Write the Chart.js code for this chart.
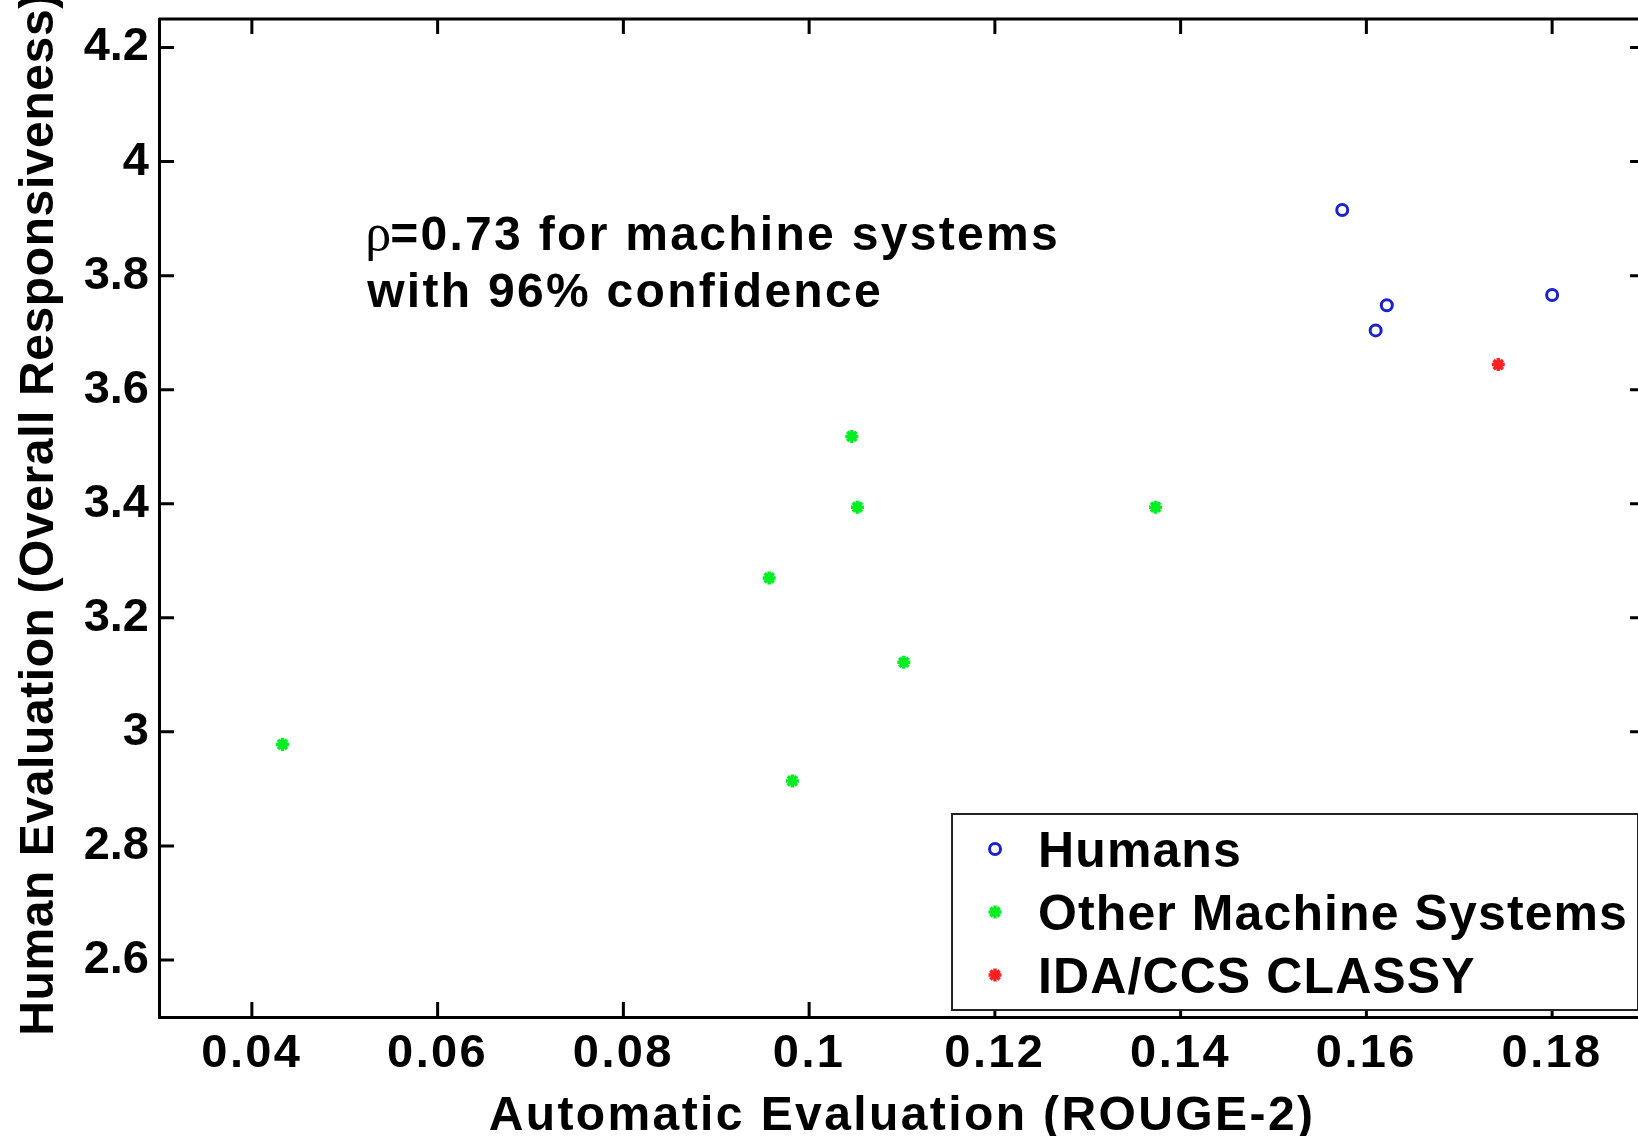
<!DOCTYPE html>
<html>
<head>
<meta charset="utf-8">
<title>Human vs Automatic Evaluation</title>
<script src="https://cdn.jsdelivr.net/npm/chart.js@4.4.1/dist/chart.umd.min.js"></script>
<style>
    html, body { margin: 0; padding: 0; background: #fff; overflow: hidden; }
    /* the right frame of the original axes falls just outside the picture */
    #marco { position: absolute; left: 0; top: 0; width: 1700px; height: 1136px; }
</style>
</head>
<body>
<div id="marco"><canvas id="grafica"></canvas></div>
<script>
// Ticks
const xTicks = [0.04, 0.06, 0.08, 0.10, 0.12, 0.14, 0.16, 0.18];
const yTicks = [2.6, 2.8, 3.0, 3.2, 3.4, 3.6, 3.8, 4.0, 4.2];

// Series (ROUGE-2, responsiveness)
const humanosX = [0.1574, 0.1622, 0.1610, 0.1800];
const humanosY = [3.915, 3.748, 3.704, 3.766];
const otrosX = [0.0433, 0.1046, 0.1052, 0.0957, 0.1102, 0.0982, 0.1373];
const otrosY = [2.978, 3.518, 3.394, 3.270, 3.122, 2.914, 3.394];
const classyX = [0.1742];
const classyY = [3.644];

const nota = ['=0.73 for machine systems', 'with 96% confidence'];
const tituloY = 'Human Evaluation (Overall Responsiveness)';

const fuente = '"Liberation Sans", Arial, Helvetica, sans-serif';

function puntos(xs, ys) {
    return xs.map((x, i) => ({ x: x, y: ys[i] }));
}

function etiqueta(v) {
    return String(parseFloat(Number(v).toFixed(2)));
}

// Caja estilo MATLAB: marco superior/derecho, ticks hacia dentro, textos y leyenda
const marcoPlugin = {
    id: 'marco',
    beforeDraw(chart) {
        // la fuente del original es algo mas ancha que Liberation Sans
        chart.ctx.letterSpacing = '2.4px';
    },
    beforeDatasetsDraw(chart) {
        const { ctx, chartArea: a, scales: { x, y } } = chart;
        const largo = 15;
        ctx.save();
        ctx.strokeStyle = '#000';
        ctx.lineWidth = 3;
        ctx.beginPath();
        ctx.moveTo(a.left, a.top);
        ctx.lineTo(a.right, a.top);
        ctx.lineTo(a.right, a.bottom);
        x.ticks.forEach(t => {
            const px = x.getPixelForValue(t.value);
            ctx.moveTo(px, a.bottom);
            ctx.lineTo(px, a.bottom - largo);
            ctx.moveTo(px, a.top);
            ctx.lineTo(px, a.top + largo);
        });
        y.ticks.forEach(t => {
            const py = y.getPixelForValue(t.value);
            ctx.moveTo(a.left, py);
            ctx.lineTo(a.left + largo, py);
            ctx.moveTo(a.right, py);
            ctx.lineTo(a.right - largo, py);
        });
        ctx.stroke();

        // titulo del eje Y (sin comprimir)
        ctx.fillStyle = '#000';
        ctx.font = 'bold 48px ' + fuente;
        ctx.letterSpacing = '0.6px';
        ctx.textAlign = 'center';
        ctx.textBaseline = 'middle';
        ctx.save();
        ctx.translate(40, (a.top + a.bottom) / 2 - 4);
        ctx.rotate(-Math.PI / 2);
        ctx.fillText(tituloY, 0, 0);
        ctx.restore();

        // texto de la correlacion
        const nx = x.getPixelForValue(0.0522);
        const ny = y.getPixelForValue(3.845);
        ctx.textBaseline = 'alphabetic';
        ctx.textAlign = 'left';
        ctx.letterSpacing = '0px';
        ctx.font = '52px "Liberation Serif", "DejaVu Serif", serif';
        ctx.fillText('ρ', nx, ny);
        const anchoRho = ctx.measureText('ρ').width;
        ctx.font = 'bold 48px ' + fuente;
        ctx.letterSpacing = '2.3px';
        ctx.fillText(nota[0], nx + anchoRho - 1, ny);
        ctx.fillText(nota[1], nx + 2, ny + 57);
        ctx.restore();
    },
    afterDatasetsDraw(chart) {
        // las etiquetas del eje Y (z: 1) van sin espaciado extra
        chart.ctx.letterSpacing = '0px';
    },
    afterDraw(chart) {
        const { ctx, chartArea: a } = chart;
        const sets = chart.data.datasets;
        ctx.save();
        ctx.font = 'bold 50px ' + fuente;
        ctx.letterSpacing = '1.1px';
        const anchoTexto = Math.max(...sets.map(d => ctx.measureText(d.label).width));
        const derecha = a.right - 7;
        const abajo = a.bottom - 7;
        const alto = 196;
        const izquierda = derecha - (anchoTexto + 96);
        const arriba = abajo - alto;
        ctx.fillStyle = '#fff';
        ctx.fillRect(izquierda, arriba, derecha - izquierda, alto);
        ctx.strokeStyle = '#222';
        ctx.lineWidth = 2;
        ctx.strokeRect(izquierda, arriba, derecha - izquierda, alto);
        sets.forEach((d, i) => {
            const cy = arriba + 35 + i * 63;
            ctx.strokeStyle = d.borderColor;
            ctx.fillStyle = d.backgroundColor;
            ctx.lineWidth = d.pointBorderWidth;
            Chart.helpers.drawPoint(ctx, {
                pointStyle: d.pointStyle,
                radius: d.pointRadius,
                borderWidth: d.pointBorderWidth,
                rotation: 0
            }, izquierda + 43, cy);
            ctx.fillStyle = '#000';
            ctx.textBaseline = 'alphabetic';
            ctx.textAlign = 'left';
            ctx.fillText(d.label, izquierda + 86, cy + 18);
        });
        ctx.restore();
    }
};

const ctx = document.getElementById('grafica').getContext('2d');
new Chart(ctx, {
    type: 'scatter',
    data: {
        datasets: [
            {
                label: 'Humans',
                data: puntos(humanosX, humanosY),
                pointStyle: 'circle',
                pointRadius: 5.5,
                pointBorderWidth: 3,
                borderColor: '#1a22cc',
                backgroundColor: 'rgba(0,0,0,0)'
            },
            {
                label: 'Other Machine Systems',
                data: puntos(otrosX, otrosY),
                pointStyle: 'star',
                pointRadius: 6.5,
                pointBorderWidth: 3.5,
                borderColor: '#00ee22',
                backgroundColor: '#00ee22'
            },
            {
                label: 'IDA/CCS CLASSY',
                data: puntos(classyX, classyY),
                pointStyle: 'star',
                pointRadius: 6.5,
                pointBorderWidth: 3.5,
                borderColor: '#ff2020',
                backgroundColor: '#ff2020'
            }
        ]
    },
    options: {
        responsive: true,
        maintainAspectRatio: false,
        animation: false,
        layout: { padding: { left: 0, top: 19, right: 55, bottom: 0 } },
        plugins: {
            legend: { display: false },
            tooltip: { enabled: false }
        },
        scales: {
            x: {
                type: 'linear',
                min: 0.03,
                max: 0.19,
                grid: { display: false, drawTicks: false },
                border: { display: true, color: '#000', width: 3 },
                afterBuildTicks: s => { s.ticks = xTicks.map(v => ({ value: v })); },
                afterFit: s => { s.height = 119; s.paddingLeft = 0; s.paddingRight = 0; },
                ticks: {
                    color: '#000',
                    padding: 14,
                    maxRotation: 0,
                    autoSkip: false,
                    font: { family: fuente, size: 47, weight: 'bold', lineHeight: 1 },
                    callback: v => etiqueta(v)
                },
                title: {
                    display: true,
                    text: 'Automatic Evaluation (ROUGE-2)',
                    color: '#000',
                    font: { family: fuente, size: 48, weight: 'bold', lineHeight: 0.8 },
                    padding: { top: 0, bottom: 0 }
                }
            },
            y: {
                type: 'linear',
                min: 2.5,
                max: 4.25,
                grid: { display: false, drawTicks: false },
                border: { display: true, color: '#000', width: 3 },
                afterBuildTicks: s => { s.ticks = yTicks.map(v => ({ value: v })); },
                afterFit: s => { s.width = 159; s.paddingTop = 0; s.paddingBottom = 0; },
                ticks: {
                    z: 1,
                    color: '#000',
                    padding: 10,
                    autoSkip: false,
                    font: { family: fuente, size: 47, weight: 'bold', lineHeight: 1 },
                    callback: v => etiqueta(v)
                },
                title: { display: false }
            }
        }
    },
    plugins: [marcoPlugin]
});
</script>
</body>
</html>
